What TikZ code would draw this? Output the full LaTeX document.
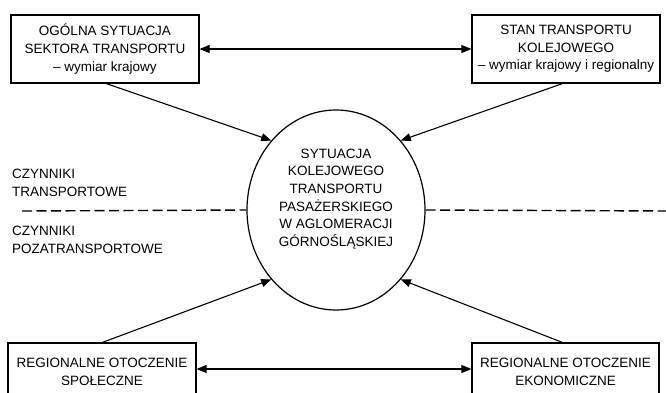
\documentclass[tikz,border=0pt]{standalone}
\usepackage{fontspec}
\setmainfont{Liberation Sans}
\usetikzlibrary{shapes.geometric,arrows.meta}
\begin{document}
\begin{tikzpicture}[x=1pt,y=-1pt,
  txt/.style={font=\fontsize{13.5pt}{17.6pt}\selectfont, align=center, inner sep=0pt},
  box/.style={txt, draw, line width=1.2pt, minimum width=188pt, minimum height=68pt},
  lowbox/.style={box, minimum height=58pt},
  arr/.style={line width=1.1pt, -{Triangle[length=10pt,width=8pt]}},
  darr/.style={line width=1.1pt, {Triangle[length=10pt,width=8pt]}-{Triangle[length=10pt,width=8pt]}},
  sep/.style={line width=1.4pt, dash pattern=on 10pt off 4.5pt}]
\useasboundingbox (0,0) rectangle (666,392);
\clip (0,0) rectangle (666,392);
\node[box] (b1) at (105,49) {OGÓLNA SYTUACJA\\SEKTORA TRANSPORTU\\– wymiar krajowy};
\node[box] (b2) at (566,49) {STAN TRANSPORTU\\KOLEJOWEGO\\– wymiar krajowy i regionalny};
\node[lowbox] (b3) at (102,372) {REGIONALNE OTOCZENIE\\SPOŁECZNE};
\node[lowbox, minimum width=187pt] (b4) at (565.5,372) {REGIONALNE OTOCZENIE\\EKONOMICZNE};
\node[draw, ellipse, line width=1.2pt, minimum width=178pt, minimum height=200pt, inner sep=0pt] (e) at (336,210) {};
\node[txt] (et) at (336,199) {SYTUACJA\\KOLEJOWEGO\\TRANSPORTU\\PASAŻERSKIEGO\\W AGLOMERACJI\\GÓRNOŚLĄSKIEJ};
\node[txt, align=left, anchor=west] (lt) at (12,183) {CZYNNIKI\\TRANSPORTOWE};
\node[txt, align=left, anchor=west] (lp) at (12,240) {CZYNNIKI\\POZATRANSPORTOWE};
\coordinate (dl) at (22,211);
\coordinate (dr) at (670,211);
\draw[sep] (dl) -- (e.west);
\draw[sep] (e.east) -- (dr);
\draw[darr] (b1.east) -- (b2.west);
\draw[darr] ([yshift=3pt]b3.east) -- ([yshift=3pt]b4.west);
\draw[arr] ([xshift=96pt]b1.south west) -- (e.133);
\draw[arr] ([xshift=91pt]b2.south west) -- (e.47);
\draw[arr] ([xshift=95pt]b3.north west) -- (e.227);
\draw[arr] ([xshift=91pt]b4.north west) -- (e.313);
\end{tikzpicture}
\end{document}
